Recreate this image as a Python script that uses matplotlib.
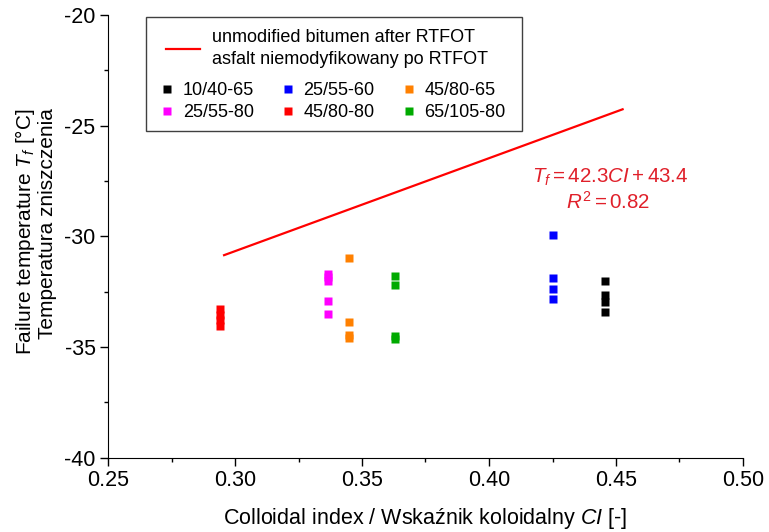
import matplotlib
matplotlib.use("Agg")
import matplotlib.pyplot as plt
from matplotlib.patches import Rectangle
from matplotlib.ticker import MultipleLocator, FormatStrFormatter

plt.rcParams['font.family'] = ['Liberation Sans', 'DejaVu Sans']
plt.rcParams['mathtext.fontset'] = 'custom'
plt.rcParams['mathtext.rm'] = 'Liberation Sans'
plt.rcParams['mathtext.it'] = 'Liberation Sans:italic'
plt.rcParams['axes.unicode_minus'] = False

# colloidal index / failure temperature per bitumen grade
grades = ['10/40-65', '25/55-60', '45/80-65', '25/55-80', '45/80-80', '65/105-80']
colors = ['black', '#0000ff', '#ff8000', '#ff00ff', '#ff0000', '#00aa00']

ci_10_40_65 = 0.4455
tf_10_40_65 = [-32.0, -32.67, -32.97, -33.43]
ci_25_55_60 = 0.4253
tf_25_55_60 = [-29.93, -31.87, -32.36, -32.82]
ci_45_80_65 = 0.345
tf_45_80_65 = [-30.97, -33.85, -34.46, -34.57]
ci_25_55_80 = 0.3365
tf_25_55_80 = [-31.68, -31.84, -32.0, -32.92, -33.52]
ci_45_80_80 = 0.294
tf_45_80_80 = [-33.3, -33.55, -33.8, -34.05]
ci_65_105_80 = 0.363
tf_65_105_80 = [-31.81, -32.2, -34.48, -34.64]

# regression line for unmodified bitumen after RTFOT
fit_ci = [0.2957, 0.4526]
fit_tf = [-30.85, -24.26]

ci_vals = [ci_10_40_65, ci_25_55_60, ci_45_80_65, ci_25_55_80, ci_45_80_80, ci_65_105_80]
tf_vals = [tf_10_40_65, tf_25_55_60, tf_45_80_65, tf_25_55_80, tf_45_80_80, tf_65_105_80]

W, H = 769, 532
fig = plt.figure(figsize=(W / 100, H / 100), dpi=100)
ax = fig.add_axes([108 / W, 1 - 457.7 / H, (743 - 108) / W, (457.7 - 15) / H])

line, = ax.plot(fit_ci, fit_tf, color='red', lw=1.6)

handles = {}
for g, c, x, ys in zip(grades, colors, ci_vals, tf_vals):
    h, = ax.plot([x] * len(ys), ys, 's', color=c, ms=6.4, mec='none', ls='none')
    handles[g] = h

ax.text(0.4476, -27.35, r'$T_f = 42.3CI + 43.4$', color='#e0202a', fontsize=14.8, ha='center', va='center')
ax.text(0.4469, -28.45, r'$R^2 = 0.82$', color='#e0202a', fontsize=14.8, ha='center', va='center')

ax.set_xlim(0.25, 0.50)
ax.set_ylim(-40, -20)
ax.xaxis.set_major_locator(MultipleLocator(0.05))
ax.xaxis.set_minor_locator(MultipleLocator(0.025))
ax.yaxis.set_major_locator(MultipleLocator(5))
ax.yaxis.set_minor_locator(MultipleLocator(2.5))
ax.xaxis.set_major_formatter(FormatStrFormatter('%.2f'))
ax.spines['top'].set_visible(False)
ax.spines['right'].set_visible(False)
ax.tick_params(which='major', length=6, width=1, labelsize=15.5, pad=3)
ax.tick_params(which='minor', length=3, width=1)

ax.set_xlabel('Colloidal index / Wskaźnik koloidalny $CI$ [-]', fontsize=15.5)
ax.xaxis.set_label_coords(0.5, -0.108)
ax.set_ylabel('Failure temperature $T_f$ [°C]\nTemperatura zniszczenia', fontsize=15,
              multialignment='right', linespacing=1.1)
ax.yaxis.set_label_coords(-0.080, 0.511)

# legend: frame + line entry + 3-column marker entries
fig.patches.append(Rectangle((146 / W, 1 - 131 / H), 376 / W, 114 / H, transform=fig.transFigure,
                             fill=False, edgecolor='#404040', lw=1.0))
leg1 = ax.legend([line], ['unmodified bitumen after RTFOT\nasfalt niemodyfikowany po RTFOT'],
                 loc='upper left', bbox_to_anchor=(166 / W, 1 - 29 / H), bbox_transform=fig.transFigure,
                 frameon=False, fontsize=13, handlelength=1.9, handletextpad=0.67,
                 borderpad=0, borderaxespad=0)
for t in leg1.get_texts():
    t.set_linespacing(1.4)
ax.add_artist(leg1)
order = ['10/40-65', '25/55-80', '25/55-60', '45/80-80', '45/80-65', '65/105-80']
leg2 = ax.legend([handles[g] for g in order], order, ncol=3, loc='upper left',
                 bbox_to_anchor=(161 / W, 1 - 82 / H), bbox_transform=fig.transFigure,
                 frameon=False, fontsize=13, handlelength=0.7, handletextpad=0.5,
                 columnspacing=1.55, labelspacing=0.27, borderpad=0, borderaxespad=0, numpoints=1)

fig.savefig('out.png', dpi=100)
